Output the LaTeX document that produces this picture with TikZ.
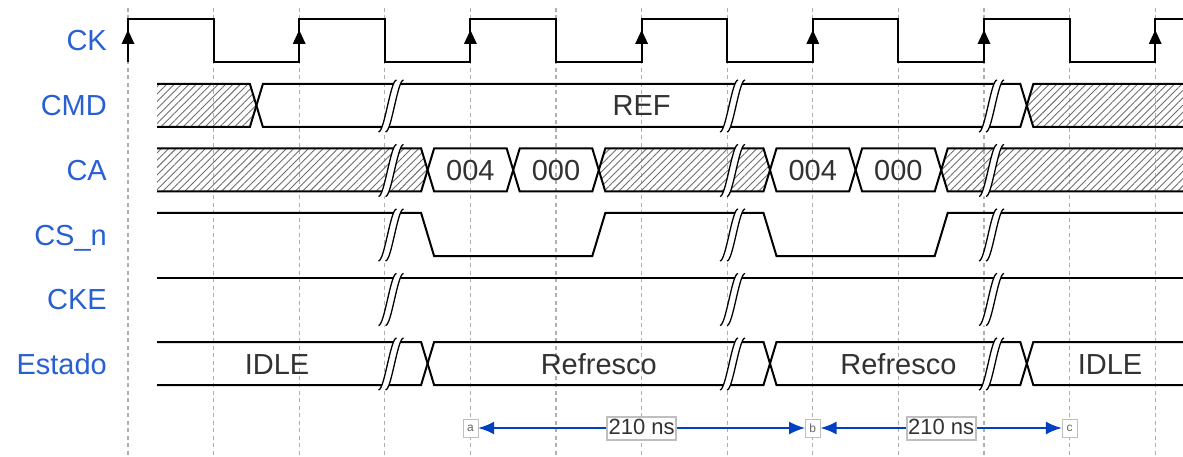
\documentclass[tikz,border=0pt]{standalone}
\usepackage{fontspec}
\setmainfont{Liberation Sans}
\usepackage{tikz}
\usetikzlibrary{arrows.meta,patterns.meta}
\definecolor{corazul}{RGB}{0,65,196}
\definecolor{cornombre}{RGB}{40,95,210}
\definecolor{correjilla}{RGB}{175,175,175}
\definecolor{cortrama}{RGB}{110,110,110}
\definecolor{cortexto}{RGB}{50,50,50}

\begin{document}
\begin{tikzpicture}[
  x=1pt, y=-1pt,
  senal/.style={line width=2pt, line join=miter},
  rejilla/.style={color=correjilla, line width=1.3pt, dash pattern=on 4pt off 3.5pt},
  trama/.style={pattern={Lines[angle=45,distance=5.2pt,line width=0.9pt]}, pattern color=cortrama},
  corte/.style={line width=1.3pt},
  nombre/.style={anchor=base east, inner sep=0pt, text=cornombre, font=\fontsize{29}{34}\selectfont},
  dato/.style={anchor=base, inner sep=0pt, text=cortexto, font=\fontsize{29}{34}\selectfont},
  marca/.style={draw=black!25, fill=white, text=black!60, inner sep=1pt,
                minimum width=15pt, minimum height=18pt, font=\fontsize{12}{12}\selectfont},
  medida/.style={draw=black!25, fill=white, text=cortexto, inner sep=1.5pt,
                 text height=16pt, text depth=4pt, font=\fontsize{22}{24}\selectfont},
  flecha/.style={{Latex[length=16pt,width=13pt]}-{Latex[length=16pt,width=13pt]}, line width=2pt, color=corazul}
]
  \useasboundingbox (0,0) rectangle (1183,457);

  % rejilla de medio ciclo
  \foreach \t in {0,...,12}
    \draw[rejilla] ({128+85.6*\t},8) -- ({128+85.6*\t},457);

  % nombres de las senales
  \node[nombre] (nCK)  at (107,51)    {CK};
  \node[nombre] (nCMD) at (107,116)   {CMD};
  \node[nombre] (nCA)  at (107,180.5) {CA};
  \node[nombre] (nCS)  at (107,245)   {CS\_n};
  \node[nombre] (nCKE) at (107,309.5) {CKE};
  \node[nombre] (nEst) at (107,374)   {Estado};

  % CK
  \draw[senal] (128,62) \foreach \k in {0,...,5} { -- ++(0,-43) -- ++(85.6,0) -- ++(0,43) -- ++(85.6,0) }
    -- ++(0,-43) -- (1183,19);
  \foreach \k in {0,...,6}
    \fill ({128+171.2*\k},30) -- ++(-6.5,14) -- ++(13,0) -- cycle;

  % CMD
  \fill[trama] (157,84) -- (249.9,84) -- (256.4,105.5) -- (249.9,127) -- (157,127) -- cycle;
  \fill[trama] (1026.8,105.5) -- (1033.3,84) -- (1183,84) -- (1183,127) -- (1033.3,127) -- cycle;
  \draw[senal] (157,84) -- (249.9,84) -- (262.9,127) -- (1020.3,127) -- (1033.3,84) -- (1183,84);
  \draw[senal] (157,127) -- (249.9,127) -- (262.9,84) -- (1020.3,84) -- (1033.3,127) -- (1183,127);
  \node[dato] (ref) at (641.6,116) {REF};

  % CA
  \fill[trama] (157,148.5) -- (421.1,148.5) -- (427.6,170) -- (421.1,191.5) -- (157,191.5) -- cycle;
  \fill[trama] (598.8,170) -- (605.3,148.5) -- (763.5,148.5) -- (770,170) -- (763.5,191.5) -- (605.3,191.5) -- cycle;
  \fill[trama] (941.2,170) -- (947.7,148.5) -- (1183,148.5) -- (1183,191.5) -- (947.7,191.5) -- cycle;
  \draw[senal] (157,148.5) -- (421.1,148.5) -- (434.1,191.5) -- (506.7,191.5) -- (519.7,148.5) -- (592.3,148.5)
    -- (605.3,191.5) -- (763.5,191.5) -- (776.5,148.5) -- (849.1,148.5) -- (862.1,191.5) -- (934.7,191.5)
    -- (947.7,148.5) -- (1183,148.5);
  \draw[senal] (157,191.5) -- (421.1,191.5) -- (434.1,148.5) -- (506.7,148.5) -- (519.7,191.5) -- (592.3,191.5)
    -- (605.3,148.5) -- (763.5,148.5) -- (776.5,191.5) -- (849.1,191.5) -- (862.1,148.5) -- (934.7,148.5)
    -- (947.7,191.5) -- (1183,191.5);
  \node[dato] (ca1) at (470.4,180.5) {004};
  \node[dato] (ca2) at (556,180.5)   {000};
  \node[dato] (ca3) at (812.8,180.5) {004};
  \node[dato] (ca4) at (898.4,180.5) {000};

  % CS_n y CKE
  \draw[senal] (157,213) -- (421.1,213) -- (434.1,256) -- (592.3,256) -- (605.3,213) -- (763.5,213)
    -- (776.5,256) -- (934.7,256) -- (947.7,213) -- (1183,213);
  \draw[senal] (157,277.5) -- (1183,277.5);

  % Estado
  \draw[senal] (157,342) -- (421.1,342) -- (434.1,385) -- (763.5,385) -- (776.5,342) -- (1020.3,342)
    -- (1033.3,385) -- (1183,385);
  \draw[senal] (157,385) -- (421.1,385) -- (434.1,342) -- (763.5,342) -- (776.5,385) -- (1020.3,385)
    -- (1033.3,342) -- (1183,342);
  \node[dato] (e1) at (277,374)   {IDLE};
  \node[dato] (e2) at (598.8,374) {Refresco};
  \node[dato] (e3) at (898.4,374) {Refresco};
  \node[dato] (e4) at (1110,374)  {IDLE};

  % cortes
  \foreach \xc in {390.5,732,991}
    \foreach \fila in {84,148.5,213,277.5,342} {
      \fill[white] (\xc-12,\fila+48) .. controls (\xc-6,\fila+48) and (\xc,\fila-4) .. (\xc+6,\fila-4)
        -- (\xc+13,\fila-4) .. controls (\xc+7,\fila-4) and (\xc+1,\fila+48) .. (\xc-5,\fila+48) -- cycle;
      \draw[corte] (\xc-12,\fila+48) .. controls (\xc-6,\fila+48) and (\xc,\fila-4) .. (\xc+6,\fila-4);
      \draw[corte] (\xc-5,\fila+48) .. controls (\xc+1,\fila+48) and (\xc+7,\fila-4) .. (\xc+13,\fila-4);
    }

  % medidas
  \node[marca] (a) at (470.4,428)  {a};
  \node[marca] (b) at (812.8,428)  {b};
  \node[marca] (c) at (1069.6,428) {c};
  \draw[flecha] (a) -- node[medida] (m1) {210 ns} (b);
  \draw[flecha] (b) -- node[medida] (m2) {210 ns} (c);
\end{tikzpicture}
\end{document}
